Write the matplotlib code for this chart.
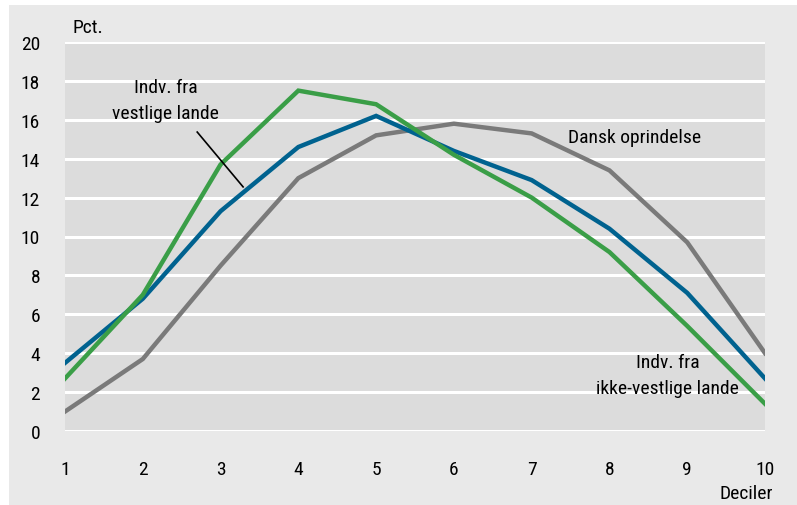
import numpy as np
import matplotlib
matplotlib.use('Agg')
import matplotlib.pyplot as plt
from matplotlib.patches import Rectangle

plt.rcParams['font.family'] = ['Roboto Condensed', 'Fira Sans Condensed', 'PT Sans Narrow',
                               'Archivo Narrow', 'Liberation Sans Narrow', 'DejaVu Sans']

deciles = [1, 2, 3, 4, 5, 6, 7, 8, 9, 10]
vestlige = [3.5, 6.8, 11.3, 14.6, 16.2, 14.4, 12.9, 10.4, 7.1, 2.7]
ikke_vestlige = [2.7, 7.0, 13.7, 17.5, 16.8, 14.2, 12.0, 9.2, 5.4, 1.4]
dansk = [1.0, 3.7, 8.5, 13.0, 15.2, 15.8, 15.3, 13.4, 9.7, 4.0]
yticks = [0, 2, 4, 6, 8, 10, 12, 14, 16, 18, 20]

fig_bg = '#e9e9e9'
ax_bg = '#dcdcdc'

fig = plt.figure(figsize=(7.97, 5.06), dpi=100, facecolor='white')
# grey panel (white strip at top and left as in the source)
fig.patches.append(Rectangle((9/797, 0), 1, 1 - 6/506, transform=fig.transFigure,
                             facecolor=fig_bg, edgecolor='none', zorder=-10))

ax = fig.add_axes([65/797, 1 - 432/506, 700/797, 389/506])
ax.set_facecolor(ax_bg)

ax.plot(deciles, dansk, color='#7a7a7a', lw=3.2, solid_joinstyle='miter', zorder=3)
ax.plot(deciles, vestlige, color='#00628f', lw=3.2, solid_joinstyle='miter', zorder=4)
ax.plot(deciles, ikke_vestlige, color='#3a9e47', lw=3.2, solid_joinstyle='miter', zorder=5)

ax.set_xlim(1, 10)
ax.set_ylim(0, 20)
ax.set_xticks(deciles)
ax.set_yticks(yticks)
ax.yaxis.grid(True, color='white', lw=2.2)
ax.set_axisbelow(True)
for s in ax.spines.values():
    s.set_visible(False)
ax.tick_params(length=0, labelsize=14)
ax.tick_params(axis='y', pad=18)
ax.tick_params(axis='x', pad=21)
for lab in ax.get_yticklabels():
    lab.set_horizontalalignment('right')

fig.text(72/797, 1 - 28/506, 'Pct.', fontsize=14, ha='left', va='center')
fig.text(773/797, 1 - 494/506, 'Deciler', fontsize=14, ha='right', va='center')

ax.text(2.29, 17.0, 'Indv. fra\nvestlige lande', fontsize=14, ha='center', va='center',
        linespacing=1.55)
ax.plot([2.70, 3.29], [15.37, 12.55], color='black', lw=1.2, zorder=6)
ax.text(8.32, 15.1, 'Dansk oprindelse', fontsize=14, ha='center', va='center')
ax.text(8.75, 2.88, 'Indv. fra\nikke-vestlige lande', fontsize=14, ha='center', va='center',
        linespacing=1.55)

fig.savefig('out.png', dpi=100, facecolor=fig.get_facecolor())
